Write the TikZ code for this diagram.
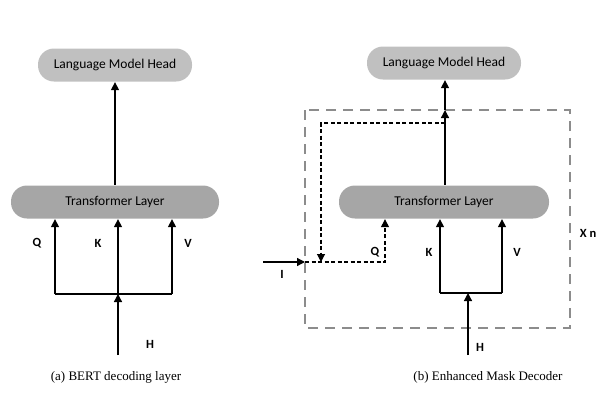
\documentclass[tikz,border=0pt]{standalone}
\usepackage{fontspec}
\setmainfont{Liberation Serif}
\setsansfont{Carlito}
\usetikzlibrary{arrows.meta, positioning}

\definecolor{headgray}{HTML}{C0C0C0}
\definecolor{layergray}{HTML}{A6A6A6}
\definecolor{boxgray}{HTML}{8C8C8C}

\begin{document}
\begin{tikzpicture}[x=1pt, y=-1pt, line width=1.3pt,
  >={Triangle[length=8pt, width=8pt]},
  lmhead/.style={fill=headgray, rounded corners=16pt, minimum width=154pt, minimum height=33pt, font=\sffamily\fontsize{13.5}{15}\selectfont},
  tlayer/.style={fill=layergray, rounded corners=16pt, minimum width=208pt, minimum height=33pt, font=\sffamily\fontsize{13.5}{15}\selectfont},
  lbl/.style={font=\sffamily\bfseries\fontsize{12.5}{14}\selectfont},
  capt/.style={font=\fontsize{13}{15}\selectfont},
  flow/.style={dashed, line width=1.1pt, dash pattern=on 4pt off 2.5pt}]
\useasboundingbox (0,0) rectangle (610,392);

% (a) BERT decoding layer
\node[lmhead] (lmA) at (115,65) {Language Model Head};
\node[tlayer] (tfA) at (115,202) {Transformer Layer};
\draw[->] (tfA) -- (lmA);
\coordinate (qA) at (55,294);
\coordinate (kA) at (118,294);
\coordinate (vA) at (172,294);
\coordinate (hA) at (118,355);
\draw (qA) -- (vA);
\foreach \p in {qA,kA,vA} \draw[->] (\p) -- (\p |- tfA.south);
\draw[->] (hA) -- (kA);
\node[lbl] (labQA) at (37,243) {Q};
\node[lbl] (labKA) at (98,243) {K};
\node[lbl] (labVA) at (188,243) {V};
\node[lbl] (labHA) at (150,344) {H};
\node[capt] (captA) at (116,377) {(a) BERT decoding layer};

% (b) Enhanced Mask Decoder
\node[lmhead] (lmB) at (444,63) {Language Model Head};
\node[tlayer, minimum width=210pt] (tfB) at (444,202) {Transformer Layer};
\draw[boxgray, line width=2pt, dash pattern=on 10pt off 7pt] (305,110) rectangle (570,328);
\coordinate (outB) at (445,110);
\coordinate (splitB) at (445,123);
\coordinate (loopB) at (321,262);
\coordinate (inB) at (305,262);
\coordinate (iB) at (263,262);
\coordinate (qB) at (385,262);
\coordinate (kB) at (440,293);
\coordinate (vB) at (502,293);
\coordinate (jB) at (468,293);
\coordinate (hB) at (468,355);
\draw[->] (tfB.north -| outB) -- (outB);
\draw[->] (outB) -- (outB |- lmB.south);
\draw[flow, ->] (splitB) -| (loopB);
\draw[->] (iB) -- (inB);
\draw[flow, ->] (inB) -- (qB) -- (qB |- tfB.south);
\draw (kB) -- (vB);
\foreach \p in {kB,vB} \draw[->] (\p) -- (\p |- tfB.south);
\draw[->] (hB) -- (jB);
\node[lbl] (labIB) at (282,274) {I};
\node[lbl] (labQB) at (375,252) {Q};
\node[lbl] (labKB) at (429,252) {K};
\node[lbl] (labVB) at (517,252) {V};
\node[lbl] (labHB) at (480,347) {H};
\node[lbl] (labXB) at (588,233) {X n};
\node[capt] (captB) at (488,377) {(b) Enhanced Mask Decoder};
\end{tikzpicture}
\end{document}
